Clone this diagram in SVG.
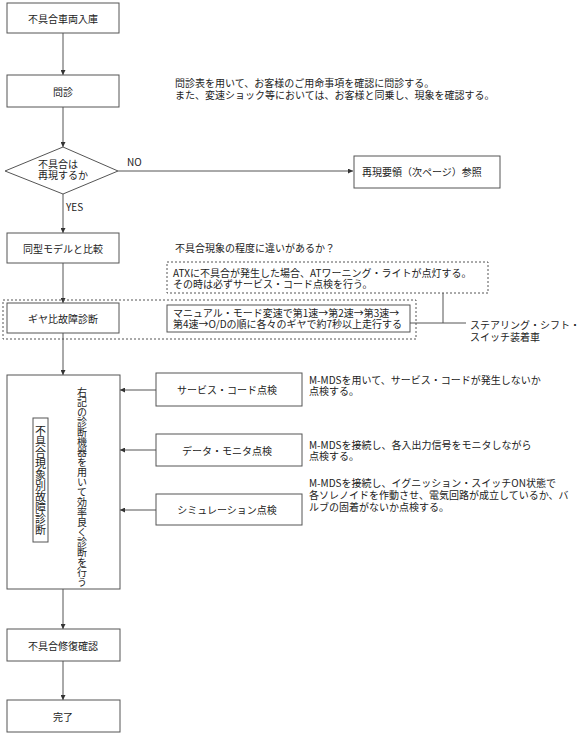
<svg xmlns="http://www.w3.org/2000/svg" width="584" height="734" viewBox="0 0 584 734">
<defs>
<marker id="ah" markerWidth="5" markerHeight="5" refX="5" refY="2.5" orient="auto" markerUnits="userSpaceOnUse">
<path d="M0,0 L5,2.5 L0,5 Z" fill="#333"/>
</marker>
<style>
.box{fill:#fff;stroke:#555;stroke-width:1}
.dash{fill:none;stroke:#555;stroke-width:1;stroke-dasharray:2,2}
.ln{fill:none;stroke:#555;stroke-width:1}
.t{font-family:"Noto Sans CJK JP","Noto Sans",sans-serif;font-size:10px;fill:#222}
.c{text-anchor:middle;dominant-baseline:central}
.v{writing-mode:vertical-rl;font-family:"Noto Sans CJK JP",sans-serif;fill:#222}
</style>
</defs>
<rect width="584" height="734" fill="#fff"/>

<g id="connectors">
<line class="ln" x1="63" y1="33" x2="63" y2="75" marker-end="url(#ah)"/>
<line class="ln" x1="63" y1="107" x2="63" y2="147" marker-end="url(#ah)"/>
<line class="ln" x1="118" y1="171" x2="353" y2="171" marker-end="url(#ah)"/>
<line class="ln" x1="63" y1="194" x2="63" y2="233" marker-end="url(#ah)"/>
<line class="ln" x1="63" y1="263" x2="63" y2="303" marker-end="url(#ah)"/>
<line class="ln" x1="63" y1="333" x2="63" y2="375" marker-end="url(#ah)"/>
<line class="ln" x1="410" y1="323" x2="466" y2="323"/>
<line class="ln" x1="443" y1="293" x2="443" y2="323"/>
<line class="ln" x1="156" y1="390" x2="120" y2="390" marker-end="url(#ah)"/>
<line class="ln" x1="156" y1="450" x2="120" y2="450" marker-end="url(#ah)"/>
<line class="ln" x1="156" y1="510" x2="120" y2="510" marker-end="url(#ah)"/>
<line class="ln" x1="63" y1="589" x2="63" y2="629" marker-end="url(#ah)" stroke="#888"/>
<line class="ln" x1="63" y1="661" x2="63" y2="700" marker-end="url(#ah)"/>
<text class="t" x="127" y="166">NO</text>
<text class="t" x="66" y="211">YES</text>
</g>

<g id="n1"><rect class="box" x="7" y="3" width="112" height="30"/><text class="t c" x="63" y="18">不具合車両入庫</text></g>
<g id="n2"><rect class="box" x="7" y="75" width="112" height="32"/><text class="t c" x="63" y="91">問診</text></g>
<g id="n2note"><text class="t" x="175" y="87">問診表を用いて、お客様のご用命事項を確認に問診する。<tspan x="175" dy="12">また、変速ショック等においては、お客様と同乗し、現象を確認する。</tspan></text></g>
<g id="d1"><polygon class="box" points="63,147 118,171 63,194 5,171"/><text class="t" x="38" y="168">不具合は<tspan x="38" dy="11">再現するか</tspan></text></g>
<g id="n3"><rect class="box" x="354" y="156" width="146" height="32"/><text class="t" x="362" y="175.5">再現要領（次ページ）参照</text></g>
<g id="n4"><rect class="box" x="7" y="233" width="112" height="30"/><text class="t c" x="63" y="248">同型モデルと比較</text></g>
<g id="n4note"><text class="t" x="175" y="252">不具合現象の程度に違いがあるか？</text></g>
<g id="atx"><rect class="dash" x="167" y="262" width="321" height="31"/><text class="t" x="173" y="276.5">ATXに不具合が発生した場合、ATワーニング・ライトが点灯する。<tspan x="173" dy="11.5">その時は必ずサービス・コード点検を行う。</tspan></text></g>
<g id="gear-group"><rect class="dash" x="3" y="300" width="413" height="39"/></g>
<g id="n5"><rect class="box" x="7" y="303" width="112" height="30"/><text class="t c" x="63" y="318">ギヤ比故障診断</text></g>
<g id="manual"><rect class="box" x="167" y="305" width="243" height="27" stroke="#888" stroke-width="1.5"/><text class="t" x="173" y="316.5">マニュアル・モード変速で第1速→第2速→第3速→<tspan x="173" dy="11.5">第4速→O/Dの順に各々のギヤで約7秒以上走行する</tspan></text></g>
<g id="steer"><text class="t" x="470" y="328.5">ステアリング・シフト・<tspan x="470" dy="12.5">スイッチ装着車</tspan></text></g>
<g id="n6"><rect class="box" x="7" y="375" width="113" height="214"/>
<rect class="box" x="33" y="418" width="15" height="124"/>
<text class="v" x="40.5" y="425" font-size="11">不具合現象別故障診断</text>
<text class="v" x="82" y="387" font-size="10">右記の診断機器を用いて効率良く診断を行う</text></g>
<g id="s1"><rect class="box" x="156" y="373" width="146" height="33"/><text class="t c" x="227" y="389.5">サービス・コード点検</text><text class="t" x="309" y="384">M-MDSを用いて、サービス・コードが発生しないか<tspan x="309" dy="11">点検する。</tspan></text></g>
<g id="s2"><rect class="box" x="156" y="434" width="146" height="32"/><text class="t c" x="227" y="450">データ・モニタ点検</text><text class="t" x="309" y="449">M-MDSを接続し、各入出力信号をモニタしながら<tspan x="309" dy="11">点検する。</tspan></text></g>
<g id="s3"><rect class="box" x="156" y="494" width="146" height="31"/><text class="t c" x="227" y="509.5">シミュレーション点検</text><text class="t" x="309" y="487">M-MDSを接続し、イグニッション・スイッチON状態で<tspan x="309" dy="12">各ソレノイドを作動させ、電気回路が成立しているか、バ</tspan><tspan x="309" dy="12">ルブの固着がないか点検する。</tspan></text></g>
<g id="n7"><rect class="box" x="7" y="629" width="113" height="32"/><text class="t c" x="63" y="645">不具合修復確認</text></g>
<g id="n8"><rect class="box" x="7" y="700" width="113" height="32"/><text class="t c" x="63" y="716">完了</text></g>
</svg>
